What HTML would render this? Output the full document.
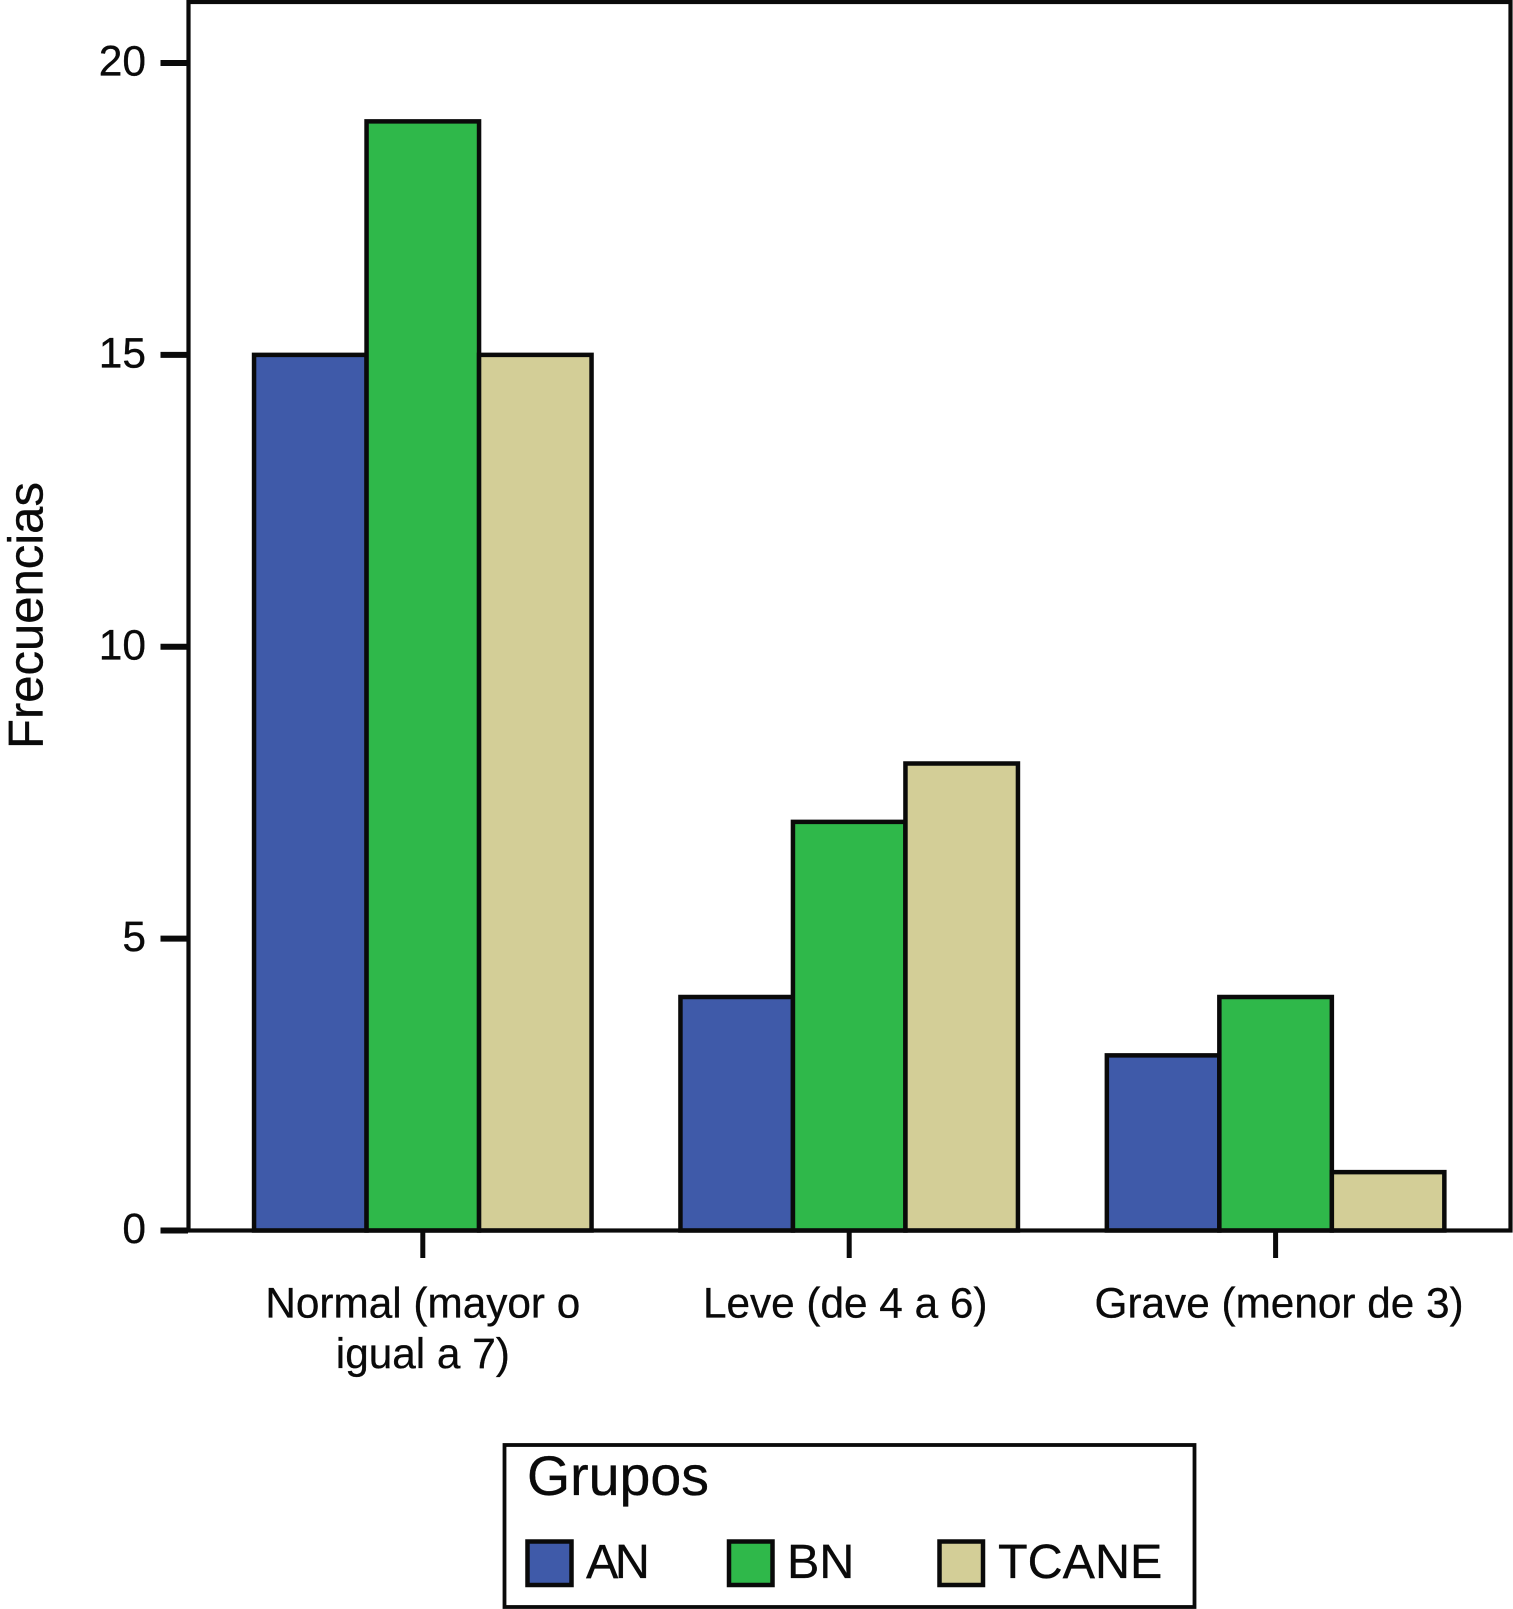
<!DOCTYPE html>
<html lang="es">
<head>
<meta charset="utf-8">
<title>Frecuencias por grupo</title>
<style>
  html, body { margin: 0; padding: 0; background: #ffffff; }
  svg { display: block; }
  text { font-family: "Liberation Sans", sans-serif; fill: #0a0a0a; stroke: #0a0a0a; stroke-width: 0.3px; }
</style>
</head>
<body>
<svg id="chart" xmlns="http://www.w3.org/2000/svg" width="1513" height="1609" viewBox="0 0 1513 1609">
  <rect x="0" y="0" width="1513" height="1609" fill="#ffffff"/>
  <g id="bars"></g>
  <rect x="188.5" y="2" width="1322" height="1228.5" fill="none" stroke="#0a0a0a" stroke-width="4.2"/>
  <g id="axes"></g>
  <text transform="translate(42.5,615.5) rotate(-90)" text-anchor="middle" font-size="49">Frecuencias</text>
  <g>
    <rect x="504.5" y="1445" width="690" height="162" fill="#ffffff" stroke="#0a0a0a" stroke-width="3.8"/>
    <text x="527" y="1495" font-size="55.5">Grupos</text>
    <rect x="527.5" y="1541.5" width="44" height="43.5" fill="#3f5aa9" stroke="#0a0a0a" stroke-width="4.5"/>
    <text x="586" y="1578" font-size="48.5" letter-spacing="-3.5">AN</text>
    <rect x="729" y="1541.5" width="43.5" height="43.5" fill="#2fb84a" stroke="#0a0a0a" stroke-width="4.5"/>
    <text x="787" y="1578" font-size="48.5">BN</text>
    <rect x="939.5" y="1541.5" width="43.5" height="43.5" fill="#d3ce97" stroke="#0a0a0a" stroke-width="4.5"/>
    <text x="998" y="1578" font-size="48.5">TCANE</text>
  </g>
</svg>
<script>
const categories = ["Normal (mayor o|igual a 7)", "Leve (de 4 a 6)", "Grave (menor de 3)"];
const seriesNames = ["AN", "BN", "TCANE"];
const valuesAN = [15, 4, 3];
const valuesBN = [19, 7, 4];
const valuesTCANE = [15, 8, 1];
const yTicks = [0, 5, 10, 15, 20];

const svgNS = "http://www.w3.org/2000/svg";
const seriesValues = [valuesAN, valuesBN, valuesTCANE];
const seriesColors = ["#3f5aa9", "#2fb84a", "#d3ce97"];
const labelNudge = [0, -4, 3.5];
const inkColor = "#0a0a0a";

function yScale(v) { return 1230.5 - v * 58.375; }
function xCenter(i) { return 422.8 + i * 426.4; }
const barWidth = 112.5;
function barLeft(i, s) { return xCenter(i) + (s - seriesValues.length / 2) * barWidth; }

function make(tag, attrs) {
  const el = document.createElementNS(svgNS, tag);
  for (const k in attrs) el.setAttribute(k, attrs[k]);
  return el;
}

const barsLayer = document.getElementById("bars");
const axesLayer = document.getElementById("axes");

seriesValues.forEach(function (vals, s) {
  vals.forEach(function (v, i) {
    const bar = make("rect", {
      x: barLeft(i, s),
      y: yScale(v),
      width: barWidth,
      height: yScale(0) - yScale(v),
      fill: seriesColors[s],
      stroke: inkColor,
      "stroke-width": 4.5
    });
    
    
    barsLayer.appendChild(bar);
  });
});

yTicks.forEach(function (t) {
  const tick = make("line", {
    x1: 160.5, x2: 188, y1: yScale(t), y2: yScale(t),
    stroke: inkColor, "stroke-width": 6
  });
  
  
  axesLayer.appendChild(tick);
  const label = make("text", {
    x: 146, y: yScale(t) + 12.5, "text-anchor": "end", "font-size": 42.5
  });
  label.textContent = String(t);
  
  
  axesLayer.appendChild(label);
});

categories.forEach(function (c, i) {
  const tick = make("line", {
    x1: xCenter(i), x2: xCenter(i), y1: 1232, y2: 1258,
    stroke: inkColor, "stroke-width": 5
  });
  
  
  axesLayer.appendChild(tick);
  c.split("|").forEach(function (line, n) {
    const label = make("text", {
      x: xCenter(i) + labelNudge[i], y: 1317.5 + n * 50.5,
      "text-anchor": "middle", "font-size": 42.3
    });
    label.textContent = line;
    
    
    axesLayer.appendChild(label);
  });
});
</script>
</body>
</html>
